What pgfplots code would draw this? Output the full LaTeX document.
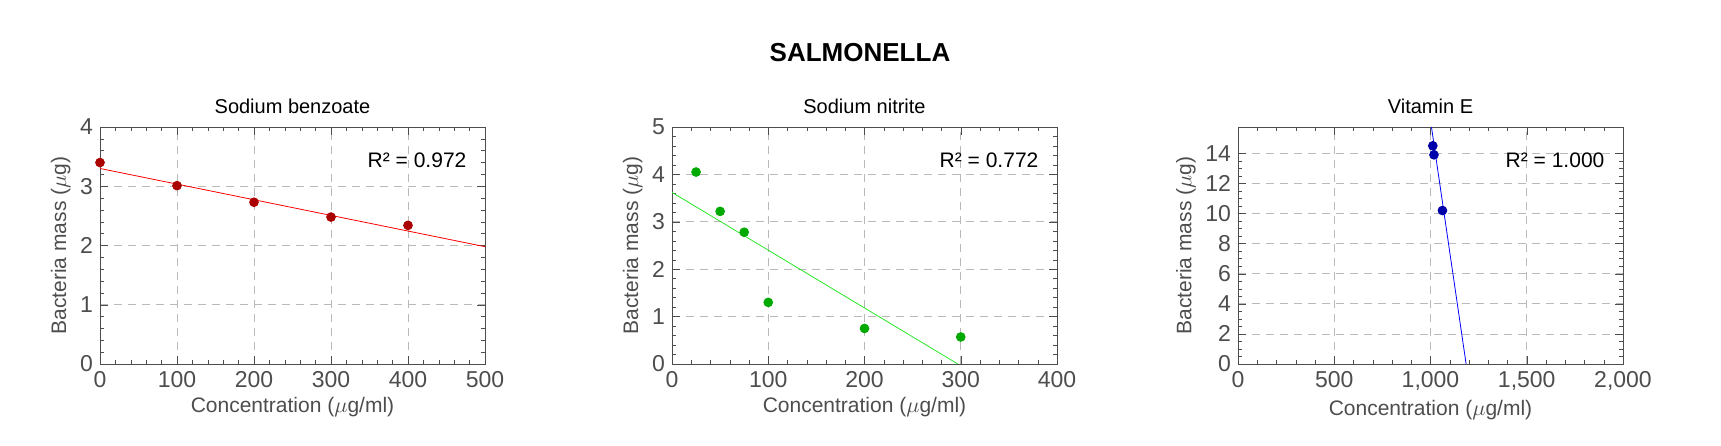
\documentclass[border=0pt]{standalone}
\usepackage{pgfplots}
\pgfplotsset{compat=1.18}
\usepackage{fontspec}
\setmainfont{Liberation Sans}
\definecolor{tk}{HTML}{4D4D4D}
\pgfplotsset{
  mm/.style={scale only axis, width=192.5pt, height=118.5pt, anchor=south west,
    axis line style={tk}, tick style={tk}, tick align=inside, xtick pos=both, ytick pos=both,
    major tick length=4pt, minor tick length=2.2pt,
    grid=major, major grid style={gray!55, dash pattern=on 4pt off 3pt},
    ticklabel style={font=\fontsize{11.5}{13}\selectfont, text=tk},
    label style={font=\fontsize{10.5}{12}\selectfont, text=tk},
    xlabel style={yshift=2pt}, ylabel style={yshift=-2pt},
    title style={font=\fontsize{10}{12}\selectfont, yshift=-3pt},
    /pgf/number format/assume math mode=true,
    xlabel={Concentration ($\mu$g/ml)}, ylabel={Bacteria mass ($\mu$g)},
    scaled ticks=false, clip=true}
}
\begin{document}
\begin{tikzpicture}
\useasboundingbox (0,0) rectangle (860.5pt,222.5pt);
\node[font=\bfseries\fontsize{13}{15}\selectfont] at (430pt,196pt) {SALMONELLA};
\begin{axis}[mm, at={(50pt,40.5pt)}, title={Sodium benzoate}, xmin=0,xmax=500,ymin=0,ymax=4,
  xtick={0,100,...,500}, ytick={0,1,2,3,4}, minor x tick num=4, minor y tick num=4]
\addplot[red, thin] coordinates {(0,3.30) (500,1.98)};
\addplot[only marks, mark=*, mark size=2.2pt, color={rgb,255:red,170;green,0;blue,0}] coordinates {(0,3.40) (100,3.01) (200,2.73) (300,2.48) (400,2.34)};
\node[anchor=north east, font=\fontsize{10.5}{12}\selectfont] at (rel axis cs:0.97,0.92) {R² = 0.972};
\end{axis}
\begin{axis}[mm, at={(336pt,40.5pt)}, title={Sodium nitrite}, xmin=0,xmax=400,ymin=0,ymax=5,
  xtick={0,100,...,400}, ytick={0,1,...,5}, minor x tick num=4, minor y tick num=4]
\addplot[thin, color={rgb,255:red,40;green,230;blue,40}] coordinates {(0,3.62) (297,0)};
\addplot[only marks, mark=*, mark size=2.2pt, color={rgb,255:red,0;green,170;blue,0}] coordinates {(25,4.05) (50,3.22) (75,2.78) (100,1.30) (200,0.75) (300,0.57)};
\node[anchor=north east, font=\fontsize{10.5}{12}\selectfont] at (rel axis cs:0.97,0.92) {R² = 0.772};
\end{axis}
\begin{axis}[mm, at={(619pt,40.5pt)}, title={Vitamin E}, xmin=0,xmax=2000,ymin=0,ymax=15.75,
  xtick={0,500,...,2000}, ytick={0,2,...,14}, minor x tick num=4, minor y tick num=3]
\addplot[blue, thin] coordinates {(1005,15.75) (1185,0)};
\addplot[only marks, mark=*, mark size=2.2pt, color={rgb,255:red,0;green,0;blue,170}] coordinates {(1012,14.5) (1018,13.9) (1062,10.2)};
\node[anchor=north east, font=\fontsize{10.5}{12}\selectfont] at (rel axis cs:0.97,0.92) {R² = 1.000};
\end{axis}
\end{tikzpicture}
\end{document}
